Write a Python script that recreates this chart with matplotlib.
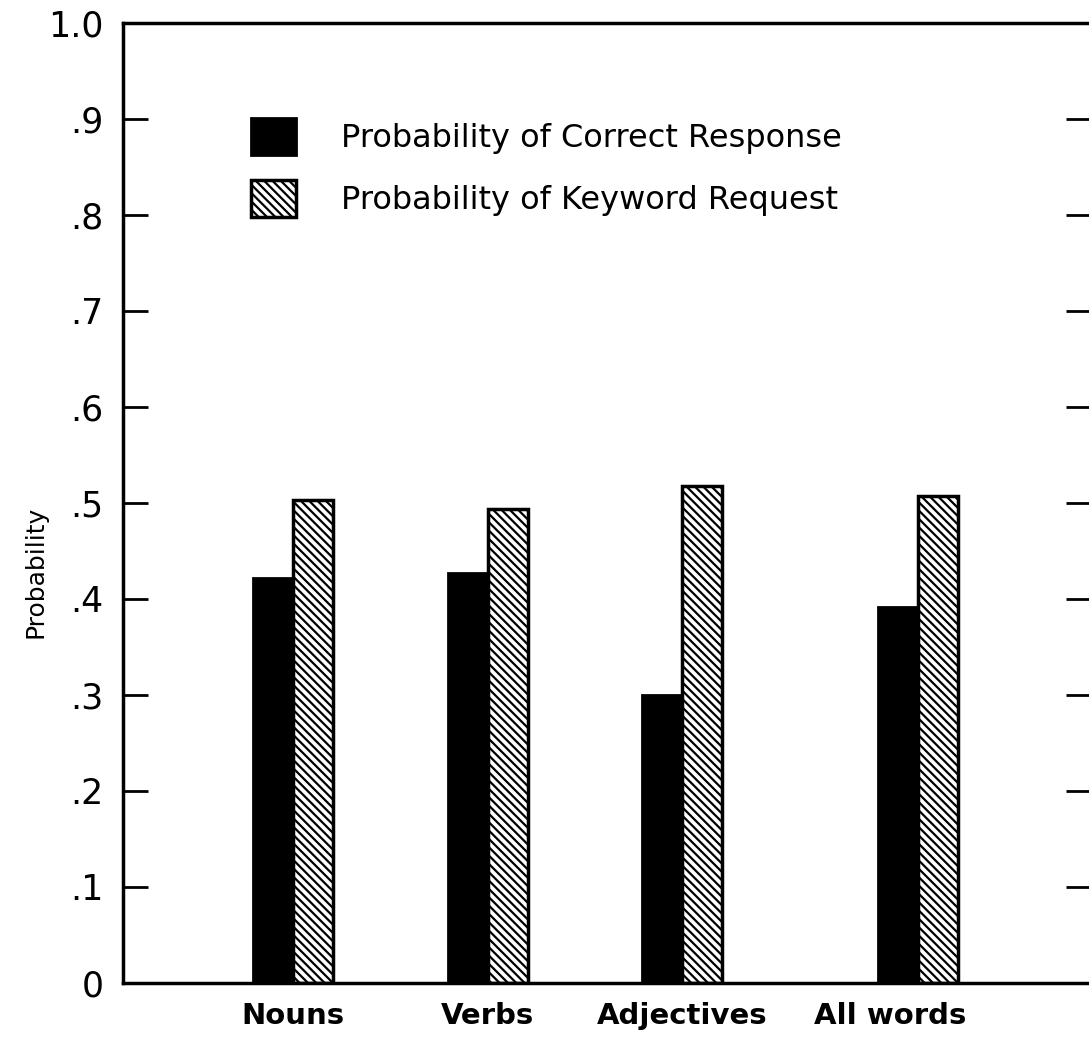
import matplotlib
matplotlib.use('Agg')
import matplotlib.pyplot as plt

categories = ['Nouns', 'Verbs', 'Adjectives', 'All words']
correct_response = [0.422, 0.427, 0.300, 0.392]
keyword_request = [0.503, 0.494, 0.518, 0.507]
ytick_values = [0, .1, .2, .3, .4, .5, .6, .7, .8, .9, 1.0]
ytick_labels = ['0', '.1', '.2', '.3', '.4', '.5', '.6', '.7', '.8', '.9', '1.0']

# layout: group centres (the last group sits a bit further right) and label spots
group_x = [0, 1, 2, 3.21]
label_x = [0, 1, 2, 3.07]
bar_w = 0.205

plt.rcParams['font.family'] = ['DejaVu Sans']
plt.rcParams['hatch.linewidth'] = 1.6
plt.rcParams['hatch.color'] = 'black'

W, H = 1089, 1042
fig = plt.figure(figsize=(W / 100, H / 100), dpi=100)
ax = fig.add_axes([123 / W, (H - 983) / H, (1091 - 123) / W, (983 - 23) / H])

b1 = ax.bar([x - bar_w / 2 for x in group_x], correct_response, width=bar_w,
            color='black', edgecolor='black', linewidth=2,
            label='Probability of Correct Response')
b2 = ax.bar([x + bar_w / 2 for x in group_x], keyword_request, width=bar_w,
            color='white', edgecolor='black', linewidth=2.5, hatch='\\\\\\\\',
            label='Probability of Keyword Request')

ax.set_ylim(0, 1.0)
ax.set_xlim(-0.874, 4.1)
ax.set_yticks(ytick_values)
ax.set_yticklabels(ytick_labels, fontsize=25)
ax.set_xticks(label_x)
ax.set_xticklabels(categories, fontsize=21, fontweight='bold')
ax.tick_params(axis='y', direction='in', length=18, width=2, left=True,
               right=True, pad=14)
ax.tick_params(axis='x', length=0, pad=14)
ax.set_ylabel('Probability', fontsize=18)
ax.yaxis.set_label_coords(-0.078, 0.428)

for s in ax.spines.values():
    s.set_linewidth(2.5)

ax.legend(handles=[b1, b2], loc='upper left', bbox_to_anchor=(0.116, 0.918),
          frameon=False, fontsize=23, handlelength=1.4, handleheight=1.4,
          handletextpad=1.4, labelspacing=0.8, borderpad=0)

fig.savefig('out.png', dpi=100)
